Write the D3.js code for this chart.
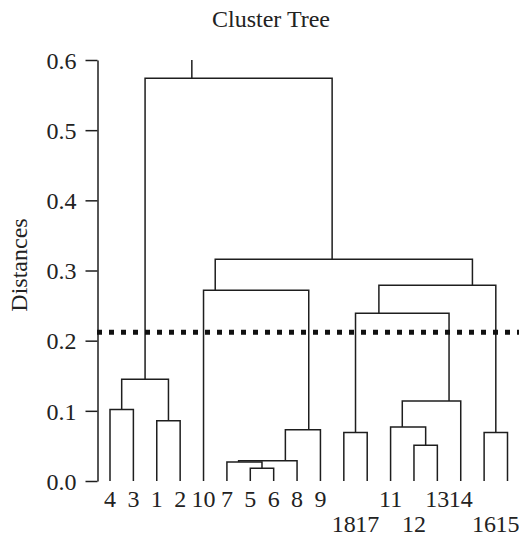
<!DOCTYPE html>
<html>
<head>
<meta charset="utf-8">
<script src="https://cdn.jsdelivr.net/npm/d3@7"></script>
<style>
  body { margin: 0; background: #fff; }
  svg text { font-family: "Liberation Serif", "Times New Roman", serif; fill: #222; }
</style>
</head>
<body>
<svg width="519" height="537"></svg>
<script>
// leaves, left to right, and which label row they sit on
const leaf_order = [4, 3, 1, 2, 10, 7, 5, 6, 8, 9, 18, 17, 11, 12, 13, 14, 16, 15];
const label_row = [0, 0, 0, 0, 0, 0, 0, 0, 0, 0, 1, 1, 0, 1, 0, 0, 1, 1];

// linkage: node 19 + i joins merge_left[i] and merge_right[i] at merge_height[i]
const merge_left = [5, 7, 20, 21, 10, 4, 1, 24, 12, 11, 28, 18, 30, 16, 31, 23, 26];
const merge_right = [6, 19, 8, 9, 22, 3, 2, 25, 13, 27, 14, 17, 29, 15, 32, 33, 34];
const merge_height = [0.018, 0.027, 0.029, 0.073, 0.272, 0.102, 0.086, 0.145, 0.051,
	0.077, 0.114, 0.069, 0.239, 0.069, 0.279, 0.316, 0.574];

const y_ticks = [0, 0.1, 0.2, 0.3, 0.4, 0.5, 0.6];
const cutoff = 0.212;
const n_leaves = leaf_order.length;

const svg = d3.select("svg");
const line_color = "#1e1e1e";

const x = d3.scaleLinear().domain([0, n_leaves - 1]).range([110, 507.5]);
const y = d3.scaleLinear().domain([0, 0.6]).range([481, 60]);

// per node: leaf index span, x position, height
let node = {};
leaf_order.forEach((id, i) => {
	node[id] = { lo: i, hi: i, pos: i, h: 0 };
});
merge_left.forEach((l, i) => {
	const a = node[l];
	const b = node[merge_right[i]];
	node[n_leaves + 1 + i] = {
		lo: Math.min(a.lo, b.lo),
		hi: Math.max(a.hi, b.hi),
		// vertical sits where the two children meet
		pos: (a.hi + b.lo) / 2,
		h: merge_height[i]
	};
});

const g = svg.append("g");
merge_left.forEach((l, i) => {
	const a = node[l];
	const b = node[merge_right[i]];
	const h = merge_height[i];
	g.append("path")
		.attr("d", "M" + x(a.pos) + "," + y(a.h)
			+ "V" + y(h)
			+ "H" + x(b.pos)
			+ "V" + y(b.h))
		.attr("fill", "none")
		.attr("stroke", line_color)
		.attr("stroke-width", 1.5);
});

// little stub above the root
const root = node[n_leaves + merge_left.length];
g.append("line")
	.attr("x1", x(root.pos)).attr("x2", x(root.pos))
	.attr("y1", y(root.h)).attr("y2", y(0.6))
	.attr("stroke", line_color)
	.attr("stroke-width", 1.5);

// leaf labels
svg.append("g").selectAll("text")
	.data(leaf_order)
	.join("text")
	.attr("x", (d, i) => x(i))
	.attr("y", (d, i) => label_row[i] == 0 ? 507 : 532)
	.attr("text-anchor", "middle")
	.attr("font-size", 24)
	.text(d => d);

// y axis
const y_axis = d3.axisLeft(y)
	.tickValues(y_ticks)
	.tickFormat(d3.format(".1f"))
	.tickSize(12)
	.tickSizeOuter(0)
	.tickPadding(9);

const ax = svg.append("g")
	.attr("transform", "translate(97.5,0)")
	.call(y_axis);
ax.selectAll("path, line").attr("stroke", line_color).attr("stroke-width", 1.5);
ax.selectAll("text")
	.attr("font-size", 24)
	.attr("font-family", "Liberation Serif, serif")
	.attr("fill", "#222")
	.attr("dy", "0.34em");

// cutoff line
svg.append("line")
	.attr("x1", 97).attr("x2", 519)
	.attr("y1", y(cutoff)).attr("y2", y(cutoff))
	.attr("stroke", "#111")
	.attr("stroke-width", 5)
	.attr("stroke-dasharray", "5,7");

// titles
svg.append("text")
	.attr("x", 271).attr("y", 27)
	.attr("text-anchor", "middle")
	.attr("font-size", 24)
	.text("Cluster Tree");

svg.append("text")
	.attr("transform", "translate(27,265) rotate(-90)")
	.attr("text-anchor", "middle")
	.attr("font-size", 24)
	.text("Distances");
</script>
</body>
</html>
